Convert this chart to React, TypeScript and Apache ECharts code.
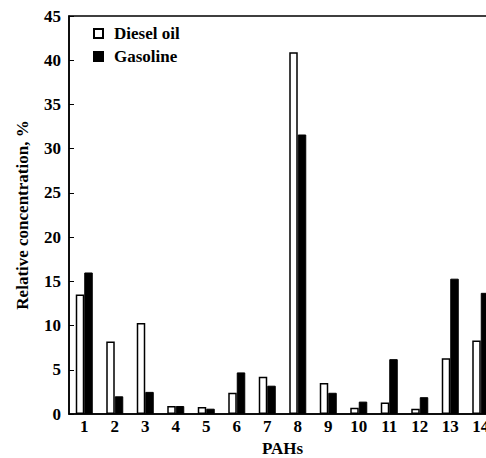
import React, { useEffect, useRef } from "react";
import * as echarts from "echarts";

const categories = ["1", "2", "3", "4", "5", "6", "7", "8", "9", "10", "11", "12", "13", "14"];
const dieselOil = [13.5, 8.2, 10.3, 0.9, 0.8, 2.4, 4.2, 40.9, 3.5, 0.7, 1.3, 0.6, 6.3, 8.3];
const gasoline = [16.0, 2.0, 2.5, 0.9, 0.6, 4.7, 3.2, 31.6, 2.4, 1.4, 6.2, 1.9, 15.3, 13.7];
const yTicks = { min: 0, max: 45, interval: 5 };

const FONT = "'Liberation Serif', 'Times New Roman', serif";

export default function App() {
  const ref = useRef<HTMLDivElement>(null);
  useEffect(() => {
    if (!ref.current) return;
    const chart = echarts.init(ref.current, null, { renderer: "svg" });
    chart.setOption({
      animation: false,
      backgroundColor: "#fff",
      textStyle: { fontFamily: FONT },
      grid: {
        left: 69,
        top: 16,
        width: 427,
        height: 398,
        show: true,
        borderColor: "#000",
        borderWidth: 1.5,
        backgroundColor: "transparent",
        outerBoundsMode: "none",
        containLabel: false,
      },
      legend: {
        orient: "vertical",
        left: 88,
        top: 20,
        icon: "rect",
        itemWidth: 9,
        itemHeight: 9,
        itemGap: 6,
        textStyle: { fontFamily: FONT, fontSize: 17, fontWeight: "bold", color: "#000", padding: [0, 0, 0, 6] },
        data: ["Diesel oil", "Gasoline"],
      },
      xAxis: {
        type: "category",
        data: categories,
        name: "PAHs",
        nameLocation: "middle",
        nameGap: 25,
        nameTextStyle: { fontFamily: FONT, fontSize: 17, fontWeight: "bold", color: "#000" },
        axisLine: { lineStyle: { color: "#000", width: 1.5 } },
        axisTick: { inside: true, length: 7, lineStyle: { color: "#000" } },
        axisLabel: { fontFamily: FONT, fontSize: 17, fontWeight: "bold", color: "#000", margin: 4 },
        splitLine: { show: false },
      },
      yAxis: {
        type: "value",
        min: yTicks.min,
        max: yTicks.max,
        interval: yTicks.interval,
        name: "Relative concentration, %",
        nameLocation: "middle",
        nameGap: 38,
        nameTextStyle: { fontFamily: FONT, fontSize: 17, fontWeight: "bold", color: "#000" },
        axisLine: { show: true, lineStyle: { color: "#000", width: 1.5 } },
        axisTick: { show: true, inside: true, length: 5, lineStyle: { color: "#000" } },
        axisLabel: { fontFamily: FONT, fontSize: 17, fontWeight: "bold", color: "#000", margin: 8 },
        splitLine: { show: false },
      },
      series: [
        {
          name: "Diesel oil",
          type: "bar",
          data: dieselOil,
          barWidth: 8.5,
          barGap: "0%",
          itemStyle: { color: "#fff", borderColor: "#000", borderWidth: 1.5 },
        },
        {
          name: "Gasoline",
          type: "bar",
          data: gasoline,
          barWidth: 8.5,
          barGap: "0%",
          itemStyle: { color: "#000", borderColor: "#000", borderWidth: 1 },
        },
      ],
    });
    return () => chart.dispose();
  }, []);
  return (
    <div style={{ position: "fixed", left: 0, top: 0, width: 486, height: 458, overflow: "hidden", background: "#fff" }}>
      <div ref={ref} style={{ width: 510, height: 458 }} />
    </div>
  );
}
